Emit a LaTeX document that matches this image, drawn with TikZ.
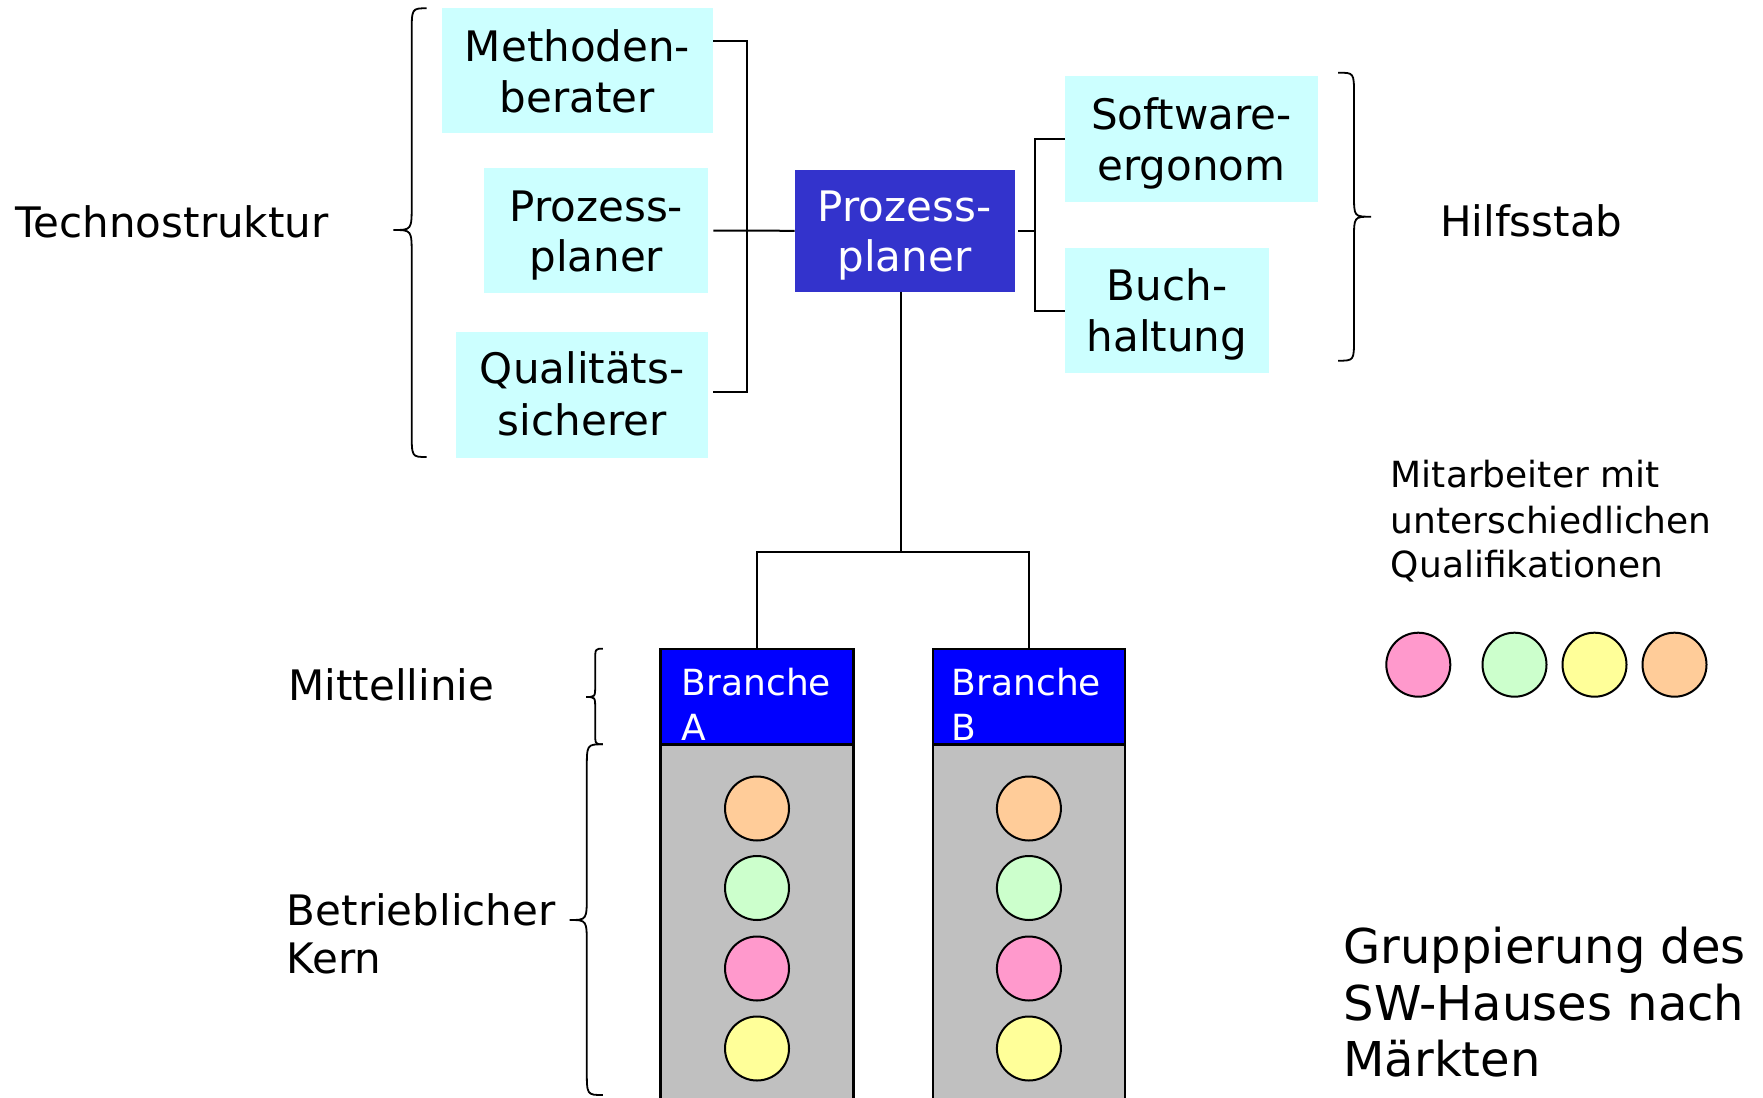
\documentclass[tikz,border=0pt]{standalone}
\usepackage{fontspec}
\setmainfont{DejaVu Sans}
\definecolor{cyanbox}{HTML}{CCFFFF}
\definecolor{ppblue}{HTML}{3333CC}
\definecolor{brblue}{HTML}{0000FF}
\definecolor{grayk}{HTML}{C0C0C0}
\definecolor{cor}{HTML}{FFCC99}
\definecolor{cgr}{HTML}{CCFFCC}
\definecolor{cpk}{HTML}{FF99CC}
\definecolor{cye}{HTML}{FFFF99}
\newcommand\fL{\fontsize{42}{50}\selectfont}
\newcommand\fM{\fontsize{36}{45}\selectfont}
\newcommand\fG{\fontsize{48}{57}\selectfont}
\newcommand\drawbrace[7]{%
 \draw[brace] (#1,#4) .. controls (#2,#4) .. (#2,#4+#7) -- (#2,#5-#7) .. controls (#2,#5) .. (#3,#5) .. controls (#2,#5) .. (#2,#5+#7) -- (#2,#6-#7) .. controls (#2,#6) .. (#1,#6);}
\tikzset{
 cbox/.style={rectangle, fill=cyanbox, draw=none, inner sep=0, outer sep=0},
 pbox/.style={rectangle, fill=ppblue, draw=none, inner sep=0, outer sep=0},
 hdr/.style={rectangle, fill=brblue, draw=black, line width=2.5, inner sep=0, outer sep=0},
 kernbox/.style={rectangle, fill=grayk, draw=black, line width=2.5, inner sep=0, outer sep=0},
 dot/.style={circle, draw=black, line width=2, minimum size=64, inner sep=0, outer sep=0},
 conn/.style={line width=2},
 brace/.style={line width=1.8},
 ctxt/.style={anchor=base, inner sep=0, font=\fL},
 ltxt/.style={anchor=base west, inner sep=0, font=\fL},
}
\begin{document}
\begin{tikzpicture}[x=1pt, y=-1pt]
\useasboundingbox (0,0) rectangle (1763,1097);
% boxes
\node[cbox, minimum width=271, minimum height=125] (meth) at (577.5,70.8) {};
\node[cbox, minimum width=224, minimum height=125.6] (pz) at (596.3,230.5) {};
\node[cbox, minimum width=252.3, minimum height=126] (qs) at (582.2,394.7) {};
\node[pbox, minimum width=220, minimum height=121.7] (pp) at (904.5,230.8) {};
\node[cbox, minimum width=252.7, minimum height=126] (sw) at (1191.4,138.7) {};
\node[cbox, minimum width=204, minimum height=125.6] (bh) at (1167,310.5) {};
% box texts
\node[ctxt] (t1) at (577.5,61.7) {Methoden-};
\node[ctxt] (t2) at (577.5,112.7) {berater};
\node[ctxt] (t3) at (596.3,221.7) {Prozess-};
\node[ctxt] (t4) at (596.3,271.7) {planer};
\node[ctxt] (t5) at (582.2,383.3) {Qualitäts-};
\node[ctxt] (t6) at (582.2,435) {sicherer};
\node[ctxt, text=white] (t7) at (904.5,221.7) {Prozess-};
\node[ctxt, text=white] (t8) at (904.5,271.7) {planer};
\node[ctxt] (t9) at (1191.4,129.3) {Software-};
\node[ctxt] (t10) at (1191.4,180) {ergonom};
\node[ctxt] (t11) at (1167,300.7) {Buch-};
\node[ctxt] (t12) at (1167,351.7) {haltung};
% branches
\node[kernbox, minimum width=192.6, minimum height=355.7] (kA) at (757,922.15) {};
\node[kernbox, minimum width=192.3, minimum height=355.7] (kB) at (1028.9,922.15) {};
\node[hdr, minimum width=192.6, minimum height=95.3] (hA) at (757,696.65) {};
\node[hdr, minimum width=192.3, minimum height=95.3] (hB) at (1028.9,696.65) {};
\node[ltxt, font=\fM, text=white] (ba1) at (681.7,695) {Branche};
\node[ltxt, font=\fM, text=white] (ba2) at (681.7,740) {A};
\node[ltxt, font=\fM, text=white] (bb1) at (951.7,695) {Branche};
\node[ltxt, font=\fM, text=white] (bb2) at (951.7,740) {B};
% circles
\node[dot, fill=cor] (a1) at (757,808.5) {};
\node[dot, fill=cgr] (a2) at (757,888) {};
\node[dot, fill=cpk] (a3) at (757,968.5) {};
\node[dot, fill=cye] (a4) at (757,1048.5) {};
\node[dot, fill=cor] (b1) at (1028.9,808.5) {};
\node[dot, fill=cgr] (b2) at (1028.9,888) {};
\node[dot, fill=cpk] (b3) at (1028.9,968.5) {};
\node[dot, fill=cye] (b4) at (1028.9,1048.5) {};
\node[dot, fill=cpk] (l1) at (1418.3,664.7) {};
\node[dot, fill=cgr] (l2) at (1514.5,664.7) {};
\node[dot, fill=cye] (l3) at (1594.5,664.7) {};
\node[dot, fill=cor] (l4) at (1674.5,664.7) {};
% connectors
\coordinate (lt) at (746.7,41);
\coordinate (lb) at (746.7,392.3);
\draw[conn, shorten >=5] (meth.east |- lt) -- (lt) -- (lb) -- (qs.east |- lb);
\draw[conn, shorten <=5] (pz.east) -- (pp.west);
\coordinate (jr) at (1034.5,230.8);
\draw[conn, shorten <=3.5] (pp.east) -- (jr);
\draw[conn] (sw.west) -| (jr) |- (bh.west);
\coordinate (jd) at (901,552);
\draw[conn] (pp.south -| jd) -- (jd);
\draw[conn] (hA.north) |- (jd) -| (hB.north);
% braces
\drawbrace{426.7}{411.7}{393.3}{8.3}{230}{457}{25}
\drawbrace{1338}{1354}{1371}{72.7}{216.7}{360.7}{22}
\drawbrace{602.9}{595.2}{586}{648.7}{697}{744.3}{12}
\drawbrace{602.9}{586.8}{569.6}{744.3}{920}{1095}{25}
% labels
\node[ltxt] (tech) at (15,237.3) {Technostruktur};
\node[ltxt] (hilf) at (1440,236.7) {Hilfsstab};
\node[ltxt] (mitt) at (288.3,700) {Mittellinie};
\node[ltxt] (betr) at (286.7,925) {Betrieblicher};
\node[ltxt] (kern) at (286.7,973.3) {Kern};
\node[ltxt, font=\fM] (m1) at (1390.7,487.5) {Mitarbeiter mit};
\node[ltxt, font=\fM] (m2) at (1390.7,533) {unterschiedlichen};
\node[ltxt, font=\fM] (m3) at (1390.7,577.5) {Qualifikationen};
\node[ltxt, font=\fG] (g1) at (1343.3,963.3) {Gruppierung des};
\node[ltxt, font=\fG] (g2) at (1343.3,1020) {SW-Hauses nach};
\node[ltxt, font=\fG] (g3) at (1343.3,1076.7) {Märkten};
\end{tikzpicture}
\end{document}
